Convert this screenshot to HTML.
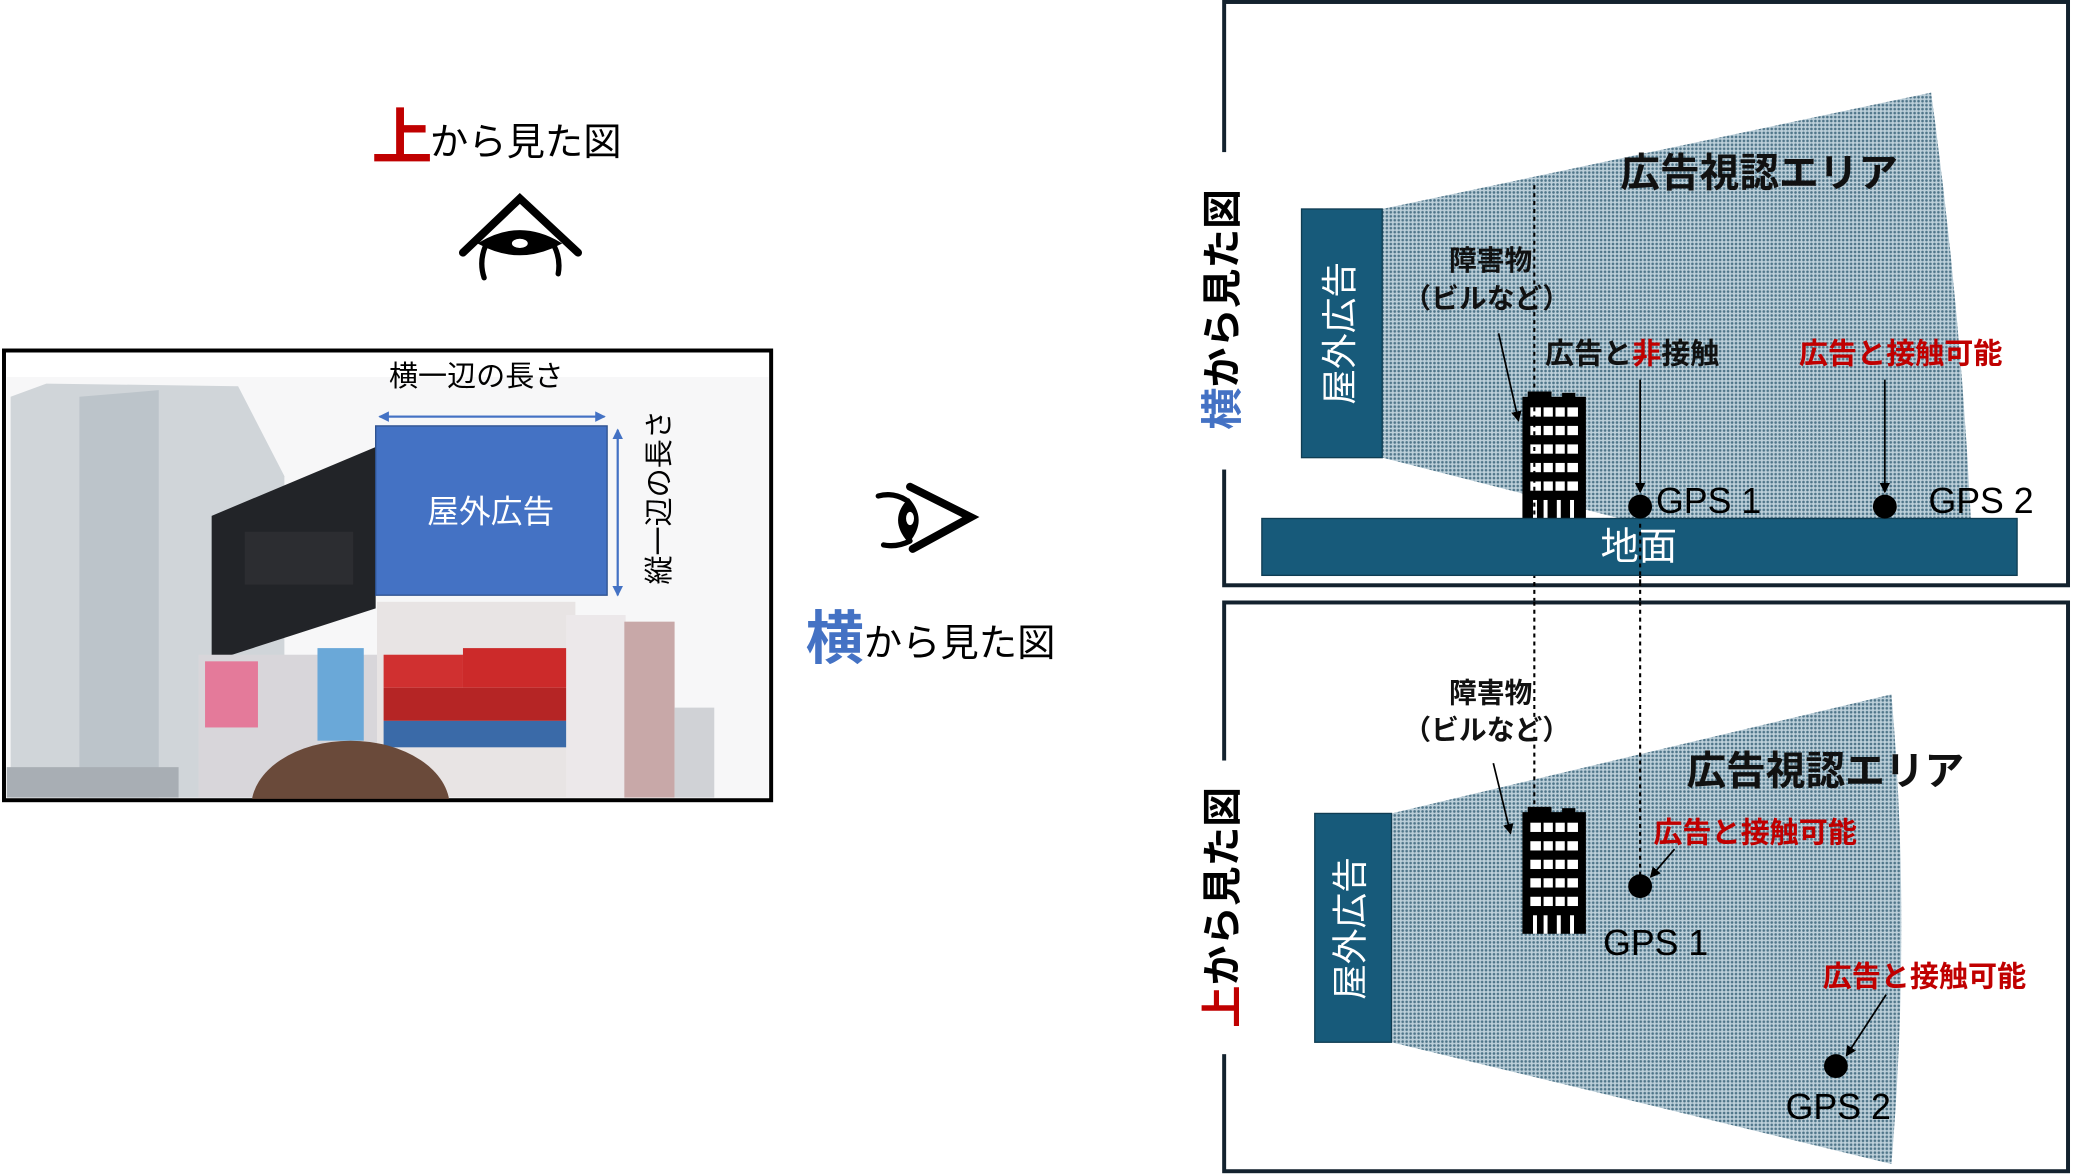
<!DOCTYPE html>
<html><head><meta charset="utf-8">
<style>
html,body{margin:0;padding:0;background:#fff;}
svg{display:block;}
text{font-family:"Liberation Sans","Noto Sans CJK JP",sans-serif;}
</style></head>
<body>
<svg width="2074" height="1174" viewBox="0 0 1568 887.6" xmlns="http://www.w3.org/2000/svg">
<defs>
<pattern id="dots" width="3" height="3" patternUnits="userSpaceOnUse">
<rect width="3" height="3" fill="#bdd0da"/>
<circle cx="1.5" cy="1.5" r="1" fill="#4f7589"/>
</pattern>
<clipPath id="ph"><rect x="5" y="267" width="576" height="337"/></clipPath>
<marker id="ab" markerWidth="8" markerHeight="8" refX="7" refY="4" orient="auto" markerUnits="userSpaceOnUse"><path d="M0,0 L8,4 L0,8 z" fill="#000"/></marker>
<marker id="abl" markerWidth="8" markerHeight="8" refX="7" refY="4" orient="auto" markerUnits="userSpaceOnUse"><path d="M0,0 L8,4 L0,8 z" fill="#4472C4"/></marker>
<g id="bld">
<rect x="0" y="0" width="48" height="92" fill="#000"/>
<rect x="4" y="-4" width="18" height="6" fill="#000"/>
<rect x="30" y="-3" width="10" height="5" fill="#000"/>
<g fill="#fff">
<rect x="6" y="8" width="36" height="7"/><rect x="6" y="22" width="36" height="7"/>
<rect x="6" y="36" width="36" height="7"/><rect x="6" y="50" width="36" height="7"/>
<rect x="6" y="64" width="36" height="7"/><rect x="8" y="78" width="3" height="14"/>
<rect x="16" y="78" width="3" height="14"/><rect x="26" y="78" width="3" height="14"/><rect x="36" y="78" width="3" height="14"/>
</g>
<g stroke="#000" stroke-width="2"><line x1="15" y1="5" x2="15" y2="75"/><line x1="24" y1="5" x2="24" y2="75"/><line x1="33" y1="5" x2="33" y2="75"/></g>
</g>
</defs>

<!-- Left title -->
<text x="281" y="120" font-size="46" font-weight="bold" fill="#C00000">上</text>
<text x="325" y="117" font-size="29" fill="#000">から見た図</text>

<!-- top eye -->
<g fill="none" stroke="#000" stroke-linecap="round">
<path d="M350,191 L393,150 L437,191" stroke-width="6"/>
<path d="M363,184 Q393,166 423,184 Q393,200 363,184 Z" fill="#000" stroke-width="2"/>
<path d="M367,186 Q362,198 366,210" stroke-width="4"/>
<path d="M419,186 Q424,196 422,207" stroke-width="4"/>
</g>
<ellipse cx="393" cy="184" rx="6" ry="3.5" fill="#fff"/>

<!-- Photo frame -->
<rect x="3" y="265" width="580" height="340" fill="#fff" stroke="#000" stroke-width="3"/>
<g clip-path="url(#ph)">
<rect x="5" y="285" width="576" height="318" fill="#f7f7f8"/>
<polygon points="8,300 35,290 180,292 215,360 215,603 8,603" fill="#d0d5d9"/>
<polygon points="60,300 120,295 120,603 60,603" fill="#bcc4ca"/>
<polygon points="160,390 284,338 284,460 160,500" fill="#222428"/>
<rect x="185" y="402" width="82" height="40" fill="#2c2d31"/>
<rect x="150" y="495" width="140" height="108" fill="#d8d6da"/>
<rect x="155" y="500" width="40" height="50" fill="#e47a9a"/>
<rect x="240" y="490" width="35" height="70" fill="#6aa8d8"/>
<rect x="285" y="455" width="150" height="148" fill="#e8e4e4"/>
<rect x="290" y="495" width="60" height="25" fill="#d03030"/>
<rect x="350" y="490" width="80" height="30" fill="#cc2a2a"/>
<rect x="290" y="520" width="140" height="25" fill="#b52525"/>
<rect x="290" y="545" width="140" height="20" fill="#3a6aa8"/>
<rect x="428" y="465" width="45" height="138" fill="#ece8ea"/>
<rect x="472" y="470" width="38" height="133" fill="#c8a8a8"/>
<rect x="510" y="535" width="30" height="68" fill="#d0d2d6"/>
<ellipse cx="265" cy="610" rx="75" ry="50" fill="#6a4a3a"/>
<rect x="5" y="580" width="130" height="23" fill="#a8aeb4"/>
</g>
<!-- blue ad -->
<rect x="284" y="322" width="175" height="128" fill="#4472C4" stroke="#2f528f" stroke-width="1"/>
<text x="371" y="395" font-size="24" fill="#fff" text-anchor="middle">屋外広告</text>
<line x1="287" y1="315" x2="457" y2="315" stroke="#4472C4" stroke-width="1.5" marker-end="url(#abl)"/>
<line x1="457" y1="315" x2="287" y2="315" stroke="#4472C4" stroke-width="1.5" marker-end="url(#abl)"/>
<line x1="467" y1="325" x2="467" y2="450" stroke="#4472C4" stroke-width="1.5" marker-end="url(#abl)"/>
<line x1="467" y1="450" x2="467" y2="325" stroke="#4472C4" stroke-width="1.5" marker-end="url(#abl)"/>
<text x="360" y="292" font-size="22" fill="#000" text-anchor="middle">横一辺の長さ</text>
<text transform="translate(500,376) rotate(-90)" font-size="22" fill="#000" text-anchor="middle" dominant-baseline="middle">縦一辺の長さ</text>

<!-- side eye -->
<g fill="none" stroke="#000" stroke-linecap="round">
<path d="M688,368 L734,391 L690,415" stroke-width="6"/>
<path d="M687,378 Q673,393 687,409 Q700,393 687,378 Z" fill="#000" stroke-width="2"/>
<path d="M685,378 Q675,372 664,375" stroke-width="4"/>
<path d="M688,409 Q678,414 668,412" stroke-width="4"/>
</g>
<ellipse cx="688" cy="392" rx="3" ry="5" fill="#fff"/>
<text x="609" y="498" font-size="44" font-weight="bold" fill="#4472C4">横</text>
<text x="653" y="496" font-size="29" fill="#000">から見た図</text>

<!-- TOP RIGHT FRAME -->
<rect x="925.5" y="1.5" width="638" height="441" fill="#fff" stroke="#13222e" stroke-width="3"/>
<rect x="910" y="115" width="32" height="240" fill="#fff"/>
<text transform="translate(927,234) rotate(-90)" font-size="30" font-weight="bold" text-anchor="middle" dominant-baseline="middle"><tspan fill="#4472C4" font-size="32">横</tspan><tspan fill="#000">から見た図</tspan></text>
<path d="M1045,158 L1460,70 Q1482,230 1490,392 L1225,392 L1045,346 Z" fill="url(#dots)"/>
<rect x="984" y="158" width="61" height="188" fill="#175a7a" stroke="#0f3d53" stroke-width="1"/>
<text transform="translate(1015,252) rotate(-90)" font-size="27" fill="#fff" text-anchor="middle" dominant-baseline="middle">屋外広告</text>
<text x="1330" y="141" font-size="30" font-weight="bold" fill="#111" text-anchor="middle">広告視認エリア</text>
<text x="1127" y="204" font-size="21" font-weight="bold" fill="#111" text-anchor="middle">障害物</text>
<text x="1124" y="233" font-size="21" font-weight="bold" fill="#111" text-anchor="middle">（ビルなど）</text>
<line x1="1133" y1="252" x2="1148" y2="318" stroke="#000" stroke-width="1.3" marker-end="url(#ab)"/>
<use href="#bld" x="1151" y="300"/>
<line x1="1160" y1="140" x2="1160" y2="612" stroke="#000" stroke-width="1.6" stroke-dasharray="3,3"/>
<line x1="1240" y1="380" x2="1240" y2="662" stroke="#000" stroke-width="1.6" stroke-dasharray="3,3"/>
<text x="1168" y="275" font-size="22" font-weight="bold" fill="#111">広告と<tspan fill="#C00000">非</tspan>接触</text>
<text x="1360" y="275" font-size="22" font-weight="bold" fill="#C00000">広告と接触可能</text>
<line x1="1240" y1="287" x2="1240" y2="372" stroke="#000" stroke-width="1.3" marker-end="url(#ab)"/>
<line x1="1425" y1="287" x2="1425" y2="372" stroke="#000" stroke-width="1.3" marker-end="url(#ab)"/>
<rect x="954" y="392" width="571" height="43" fill="#175a7a" stroke="#0f3d53" stroke-width="1"/>
<text x="1239" y="423" font-size="29" fill="#fff" text-anchor="middle">地面</text>
<circle cx="1240" cy="383" r="9" fill="#000"/>
<circle cx="1425" cy="383" r="9" fill="#000"/>
<text x="1252" y="388" font-size="27" fill="#000">GPS 1</text>
<text x="1458" y="388" font-size="27" fill="#000">GPS 2</text>
<line x1="1240" y1="396" x2="1240" y2="440" stroke="#000" stroke-width="1.6" stroke-dasharray="3,3"/>

<!-- BOTTOM RIGHT FRAME -->
<rect x="925.5" y="455.5" width="638" height="430" fill="#fff" stroke="#13222e" stroke-width="3"/>
<rect x="910" y="575" width="32" height="222" fill="#fff"/>
<text transform="translate(927,686) rotate(-90)" font-size="30" font-weight="bold" text-anchor="middle" dominant-baseline="middle"><tspan fill="#C00000" font-size="32">上</tspan><tspan fill="#000">から見た図</tspan></text>
<path d="M1052,615 L1430,525 Q1445,700 1430,880 L1052,788 Z" fill="url(#dots)"/>
<line x1="1160" y1="455" x2="1160" y2="612" stroke="#000" stroke-width="1.6" stroke-dasharray="3,3"/>
<line x1="1240" y1="455" x2="1240" y2="662" stroke="#000" stroke-width="1.6" stroke-dasharray="3,3"/>
<rect x="994" y="615" width="58" height="173" fill="#175a7a" stroke="#0f3d53" stroke-width="1"/>
<text transform="translate(1023,702) rotate(-90)" font-size="27" fill="#fff" text-anchor="middle" dominant-baseline="middle">屋外広告</text>
<text x="1380" y="593" font-size="30" font-weight="bold" fill="#111" text-anchor="middle">広告視認エリア</text>
<text x="1127" y="531" font-size="21" font-weight="bold" fill="#111" text-anchor="middle">障害物</text>
<text x="1124" y="559" font-size="21" font-weight="bold" fill="#111" text-anchor="middle">（ビルなど）</text>
<line x1="1129" y1="577" x2="1142" y2="630" stroke="#000" stroke-width="1.3" marker-end="url(#ab)"/>
<use href="#bld" x="1151" y="614"/>
<text x="1250" y="637" font-size="22" font-weight="bold" fill="#C00000">広告と接触可能</text>
<line x1="1266" y1="642" x2="1248" y2="663" stroke="#000" stroke-width="1.3" marker-end="url(#ab)"/>
<circle cx="1240" cy="670" r="9" fill="#000"/>
<text x="1212" y="722" font-size="27" fill="#000">GPS 1</text>
<text x="1378" y="746" font-size="22" font-weight="bold" fill="#C00000">広告と接触可能</text>
<line x1="1426" y1="752" x2="1396" y2="798" stroke="#000" stroke-width="1.3" marker-end="url(#ab)"/>
<circle cx="1388" cy="806" r="9" fill="#000"/>
<text x="1350" y="846" font-size="27" fill="#000">GPS 2</text>
</svg>
</body></html>
